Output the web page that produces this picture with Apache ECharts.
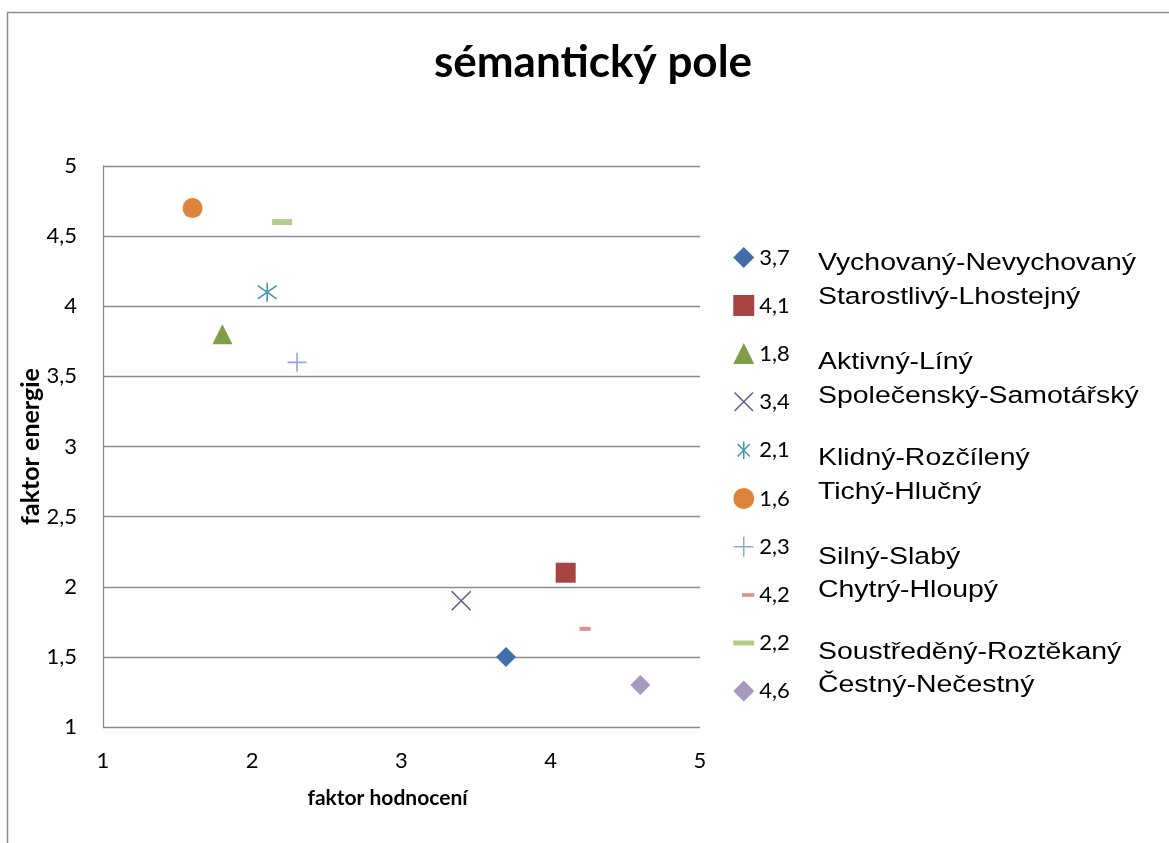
<!DOCTYPE html>
<html>
<head>
<meta charset="utf-8">
<script src="https://cdn.jsdelivr.net/npm/echarts@6/dist/echarts.min.js"></script>
<style>
html,body{margin:0;padding:0;background:#fff;}
#chart{width:1169px;height:843px;}
</style>
</head>
<body>
<div id="chart"></div>
<script>
// ---- data ----
const seriesNames = ['3,7', '4,1', '1,8', '3,4', '2,1', '1,6', '2,3', '4,2', '2,2', '4,6'];
const xValues = [3.7, 4.1, 1.8, 3.4, 2.1, 1.6, 2.3, 4.23, 2.2, 4.6];
const yValues = [1.5, 2.1, 3.8, 1.9, 4.1, 4.7, 3.6, 1.7, 4.6, 1.3];
const pairLabels = [
  'Vychovaný-Nevychovaný', 'Starostlivý-Lhostejný',
  'Aktivný-Líný', 'Společenský-Samotářský',
  'Klidný-Rozčílený', 'Tichý-Hlučný',
  'Silný-Slabý', 'Chytrý-Hloupý',
  'Soustředěný-Roztěkaný', 'Čestný-Nečestný'
];
const titleText = 'sémantický pole';
const xAxisTitle = 'faktor hodnocení';
const yAxisTitle = 'faktor energie';

// ---- styles ----
const colors = ['#3F6EA8', '#A84442', '#7F9E48', '#6E5790', '#3F98B0', '#DC823A', '#8EA9D8', '#D99292', '#B3CC8C', '#A798BF'];
const stroked = [false, false, false, true, true, false, true, false, false, false];
const symbols = [
  'diamond', 'rect', 'triangle',
  'path://M0,0L20,20M20,0L0,20',
  'path://M10,0L10,20M3,3L17,17M17,3L3,17',
  'circle',
  'path://M10,0L10,20M0,10L20,10',
  'rect', 'rect', 'diamond'
];
const sizes = [20, 20, 20, 19, 19, 20, 19, [11, 4], [20, 6], 20];
const legendIcons = [
  'diamond', 'rect', 'triangle',
  'path://M0,0M17,17M1,1L16,16M16,1L1,16',
  'path://M0,0M17,17M8.5,1.5L8.5,15.5M3.5,3.5L13.5,13.5M13.5,3.5L3.5,13.5',
  'circle',
  'path://M0,0M17,17M8.5,0.5L8.5,16.5M0.5,8.5L16.5,8.5',
  'path://M0,0M17,17M7,7L17,7L17,10L7,10Z',
  'path://M0,0M17,17M0,6.5L17,6.5L17,10.5L0,10.5Z',
  'diamond'
];

const series = seriesNames.map((n, i) => ({
  name: n,
  type: 'scatter',
  symbol: symbols[i],
  symbolSize: sizes[i],
  data: [[xValues[i], yValues[i]]],
  itemStyle: {
    color: colors[i],
    borderColor: colors[i],
    borderWidth: stroked[i] ? 1.6 : 0,
    opacity: 1
  },
  emphasis: {disabled: true}
}));

const blockTops = [247, 346, 442, 540.5, 635.5];
const graphics = [{
  type: 'rect',
  shape: {x: 7.5, y: 12.5, width: 1300, height: 1000},
  style: {fill: 'none', stroke: '#8c8c8c', lineWidth: 1.5},
  silent: true
}];
for (let b = 0; b < 5; b++) {
  graphics.push({
    type: 'text',
    x: 818, y: blockTops[b],
    scaleX: 1.16,
    style: {
      text: pairLabels[2 * b] + '\n' + pairLabels[2 * b + 1],
      font: '24.5px "Liberation Sans", Arial, sans-serif',
      fill: '#000',
      lineHeight: 33.3,
      verticalAlign: 'top',
      align: 'left'
    }
  });
}

const chart = echarts.init(document.getElementById('chart'), null, {renderer: 'canvas'});
chart.setOption({
  backgroundColor: '#fff',
  animation: false,
  title: {
    text: titleText,
    left: 588, top: 36,
    textAlign: 'center',
    textStyle: {fontFamily: 'Lato', fontWeight: 'bold', fontSize: 44, color: '#000'}
  },
  grid: {left: 103, top: 166, right: 469, bottom: 116, containLabel: false},
  xAxis: {
    type: 'value', min: 1, max: 5, interval: 1,
    name: xAxisTitle, nameLocation: 'middle', nameGap: 61,
    nameTextStyle: {fontFamily: 'Lato', fontWeight: 'bold', fontSize: 21, color: '#000', padding: [0, 28, 0, 0]},
    axisLine: {show: false},
    axisTick: {show: false},
    splitLine: {show: false},
    axisLabel: {fontFamily: 'Lato', fontSize: 22, color: '#000', margin: 23,
      formatter: v => String(v).replace('.', ',')}
  },
  yAxis: {
    type: 'value', min: 1, max: 5, interval: 0.5,
    name: yAxisTitle, nameLocation: 'middle', nameGap: 60, nameRotate: 90,
    nameMoveOverlap: false,
    nameTextStyle: {fontFamily: 'Lato', fontWeight: 'bold', fontSize: 25, color: '#000'},
    axisLine: {show: true, lineStyle: {color: '#8c8c8c', width: 1.3}},
    axisTick: {show: false},
    splitLine: {show: true, lineStyle: {color: '#8c8c8c', width: 1.3}},
    axisLabel: {fontFamily: 'Lato', fontSize: 22, color: '#000', margin: 26,
      formatter: v => String(v).replace('.', ',')}
  },
  legend: {
    orient: 'vertical',
    left: 727.5, top: 241.5,
    itemWidth: 21, itemHeight: 21,
    itemGap: 26,
    itemTextGap: 4,
    selectedMode: false,
    textStyle: {fontFamily: 'Lato', fontSize: 22, color: '#000', lineHeight: 21},
    data: seriesNames.map((n, i) => ({
      name: n,
      icon: legendIcons[i],
      itemStyle: {color: colors[i], borderColor: colors[i], borderWidth: stroked[i] ? 1.5 : 0}
    }))
  },
  graphic: graphics,
  series: series
});
</script>
</body>
</html>
